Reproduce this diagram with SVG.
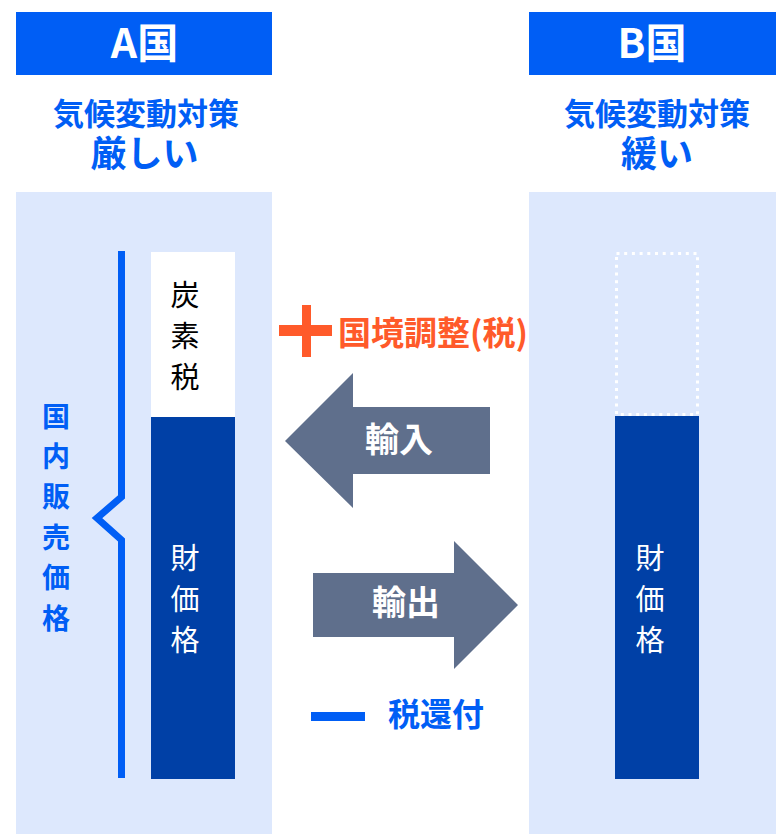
<svg xmlns="http://www.w3.org/2000/svg" width="776" height="834" viewBox="0 0 776 834">
  <style>
    text { font-family: "Noto Sans CJK JP", "Noto Sans", sans-serif; }
    .hdr { fill: #005EF5; }
    .hdrtxt { fill: #ffffff; font-size: 41px; font-weight: 700; text-anchor: middle; }
    .sub1 { fill: #005EF5; font-size: 31px; font-weight: 700; text-anchor: middle; }
    .sub2 { fill: #005EF5; font-size: 36px; font-weight: 700; text-anchor: middle; }
    .panel { fill: #DDE8FD; }
    .dark { fill: #0040A6; }
    .vt { font-size: 29px; text-anchor: middle; }
    .arrow { fill: #5F6F8C; }
    .arrowtxt { fill: #ffffff; font-size: 34px; font-weight: 700; text-anchor: middle; }
    .blue { fill: #005EF5; }
  </style>

  <g id="countryA">
    <rect class="hdr" x="16" y="12" width="256" height="63"/>
    <text class="hdrtxt" x="144.5" y="57.5">A国</text>
    <text class="sub1" x="146" y="124.5">気候変動対策</text>
    <text class="sub2" x="144.5" y="166.5">厳しい</text>
    <rect class="panel" x="16" y="192" width="256" height="642"/>
  </g>

  <g id="countryB">
    <rect class="hdr" x="529" y="12" width="247" height="63"/>
    <text class="hdrtxt" x="652" y="57.5">B国</text>
    <text class="sub1" x="657" y="124.5">気候変動対策</text>
    <text class="sub2" x="657" y="166.5">緩い</text>
    <rect class="panel" x="529" y="192" width="247" height="642"/>
  </g>

  <g id="barA">
    <rect x="151" y="252" width="84" height="165" fill="#ffffff"/>
    <rect class="dark" x="151" y="417" width="84" height="362"/>
    <g class="vt" fill="#000000">
      <text x="185" y="306">炭</text>
      <text x="185" y="347">素</text>
      <text x="185" y="388">税</text>
    </g>
    <g class="vt" fill="#ffffff">
      <text x="185" y="569">財</text>
      <text x="185" y="610">価</text>
      <text x="185" y="651">格</text>
    </g>
  </g>

  <g id="barB">
    <rect x="616.5" y="253.5" width="81" height="161" fill="none" stroke="#ffffff" stroke-width="3" stroke-dasharray="3 4.7"/>
    <rect class="dark" x="615" y="416" width="84" height="363"/>
    <g class="vt" fill="#ffffff">
      <text x="650" y="569">財</text>
      <text x="650" y="610">価</text>
      <text x="650" y="651">格</text>
    </g>
  </g>

  <g id="domesticPrice">
    <path d="M121.5 251 V497 L97 518 L121.5 540 V778" fill="none" stroke="#005EF5" stroke-width="7"/>
    <g class="blue" font-size="28" font-weight="700" text-anchor="middle">
      <text x="56" y="426.6">国</text>
      <text x="56" y="467">内</text>
      <text x="56" y="507.4">販</text>
      <text x="56" y="547.8">売</text>
      <text x="56" y="588.2">価</text>
      <text x="56" y="628.6">格</text>
    </g>
  </g>

  <g id="borderAdjust">
    <rect x="279" y="325" width="53" height="11" fill="#FF5A2A"/>
    <rect x="302" y="305" width="9" height="52" fill="#FF5A2A"/>
    <text x="338" y="344.5" fill="#FF5A2A" font-size="33" font-weight="700">国境調整(税)</text>
  </g>

  <g id="connectors">
    <g id="import">
      <polygon class="arrow" points="285,441 353,373 353,407 490,407 490,474 353,474 353,508"/>
      <text class="arrowtxt" x="399" y="451.5">輸入</text>
    </g>
    <g id="export">
      <polygon class="arrow" points="313,573 454,573 454,541 518,605 454,669 454,637 313,637"/>
      <text class="arrowtxt" x="406" y="614.5">輸出</text>
    </g>
  </g>

  <g id="taxRefund">
    <rect class="blue" x="311" y="712" width="54" height="9"/>
    <text class="blue" x="388" y="726" font-size="32" font-weight="700">税還付</text>
  </g>
</svg>
